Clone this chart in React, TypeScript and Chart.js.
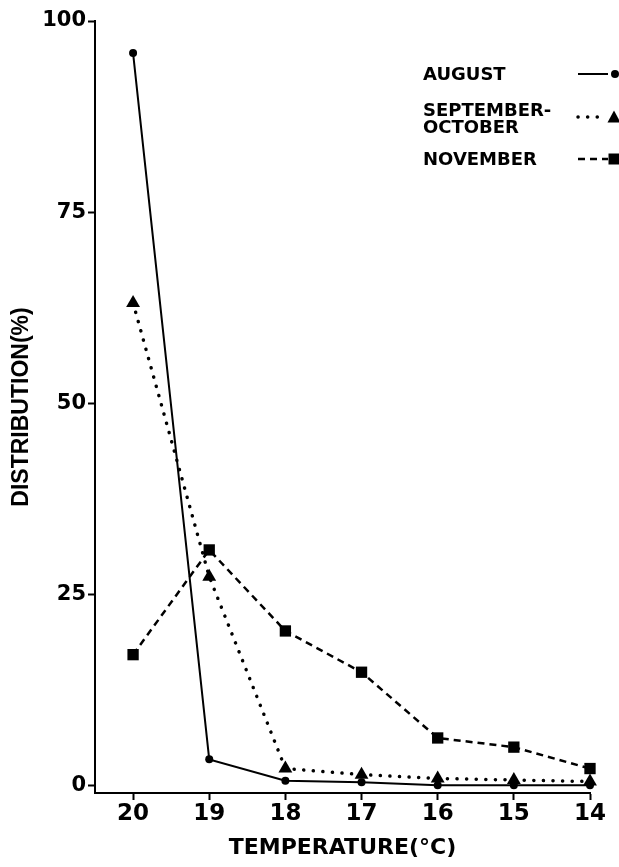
import React, { useEffect, useRef } from 'react';
import { Chart, registerables } from 'chart.js';

Chart.register(...registerables);

// ---- data ----
const temperatures = [20, 19, 18, 17, 16, 15, 14];
const august = [95.8, 3.4, 0.6, 0.4, 0, 0, 0];
const septOct = [63.1, 27.3, 2.2, 1.4, 0.9, 0.7, 0.5];
const november = [17.1, 30.8, 20.2, 14.8, 6.2, 5.0, 2.2];
const yTickValues = [0, 25, 50, 75, 100];
const xTickValues = [20, 19, 18, 17, 16, 15, 14];
const seriesLabels = [['AUGUST'], ['SEPTEMBER-', 'OCTOBER'], ['NOVEMBER']];
const xTitle = 'TEMPERATURE(°C)';
const yTitle = 'DISTRIBUTION(%)';

const W = 619;
const H = 867;
const INK = '#000000';

const legendPlugin = {
  id: 'cornerLegend',
  afterDraw(chart: any) {
    const ctx = chart.ctx as CanvasRenderingContext2D;
    ctx.save();
    ctx.fillStyle = INK;
    ctx.strokeStyle = INK;
    ctx.font = 'bold 18px "DejaVu Sans"';
    ctx.textBaseline = 'middle';
    ctx.textAlign = 'left';
    const textX = 423;
    const rows = [
      { lines: [75], sampleY: 74 },
      { lines: [111, 128], sampleY: 117 },
      { lines: [160], sampleY: 159 },
    ];
    chart.data.datasets.forEach((ds: any, i: number) => {
      const row = rows[i];
      const labels = seriesLabels[i];
      labels.forEach((t, j) => ctx.fillText(t, textX, row.lines[j]));
      // sample line
      ctx.save();
      ctx.lineWidth = ds.borderWidth;
      ctx.setLineDash(ds.borderDash || []);
      ctx.lineCap = ds.borderCapStyle || 'butt';
      ctx.beginPath();
      ctx.moveTo(578, row.sampleY);
      ctx.lineTo(i === 1 ? 602 : 608, row.sampleY);
      ctx.stroke();
      ctx.restore();
      // marker
      const mx = 614;
      const my = row.sampleY;
      ctx.beginPath();
      if (ds.pointStyle === 'circle') {
        ctx.arc(mx + 1, my, 4, 0, Math.PI * 2);
      } else if (ds.pointStyle === 'triangle') {
        ctx.moveTo(mx, my - 6.5);
        ctx.lineTo(mx + 6.5, my + 5.5);
        ctx.lineTo(mx - 6.5, my + 5.5);
        ctx.closePath();
      } else {
        ctx.rect(mx - 5.5, my - 5.5, 11, 11);
      }
      ctx.fill();
    });
    ctx.restore();
  },
};

export default function App() {
  const ref = useRef<HTMLCanvasElement | null>(null);

  useEffect(() => {
    document.body.style.margin = '0';
    const canvas = ref.current;
    if (!canvas) return;
    const toPts = (vals: number[]) => temperatures.map((t, i) => ({ x: t, y: vals[i] }));

    const chart = new Chart(canvas, {
      type: 'line',
      data: {
        datasets: [
          {
            label: 'AUGUST',
            data: toPts(august),
            borderColor: INK,
            backgroundColor: INK,
            borderWidth: 2,
            pointStyle: 'circle',
            pointRadius: 4,
            pointBorderWidth: 0,
            pointBackgroundColor: INK,
            tension: 0,
            clip: false,
          },
          {
            label: 'SEPTEMBER-OCTOBER',
            data: toPts(septOct),
            borderColor: INK,
            backgroundColor: INK,
            borderWidth: 3.5,
            borderDash: [0.1, 9.5],
            borderCapStyle: 'round',
            pointStyle: 'triangle',
            pointRadius: 8,
            pointBorderWidth: 0,
            pointBackgroundColor: INK,
            tension: 0,
            clip: false,
          },
          {
            label: 'NOVEMBER',
            data: toPts(november),
            borderColor: INK,
            backgroundColor: INK,
            borderWidth: 2.5,
            borderDash: [7, 5],
            pointStyle: 'rect',
            pointRadius: 8,
            pointBorderWidth: 0,
            pointBackgroundColor: INK,
            tension: 0,
            clip: false,
          },
        ] as any,
      },
      options: {
        animation: false,
        responsive: false,
        maintainAspectRatio: false,
        events: [],
        layout: { padding: { top: 21, right: 29, left: 0, bottom: 0 } },
        plugins: {
          legend: { display: false },
          tooltip: { enabled: false },
        },
        scales: {
          x: {
            type: 'linear',
            reverse: true,
            min: 14,
            max: 20.5,
            afterBuildTicks: (scale: any) => {
              scale.ticks = xTickValues.map((v) => ({ value: v }));
            },
            afterFit: (scale: any) => {
              scale.height = H - 793;
            },
            grid: {
              display: true,
              drawOnChartArea: false,
              drawTicks: true,
              tickLength: 7,
              tickWidth: 2,
              tickColor: INK,
              color: INK,
            },
            border: { display: true, color: INK, width: 2 },
            ticks: {
              color: INK,
              padding: 0,
              maxRotation: 0,
              autoSkip: false,
              font: { family: '"DejaVu Sans"', weight: 'bold', size: 23, lineHeight: 1.2 },
              callback: (v: any) => String(v),
            },
            title: {
              display: true,
              text: xTitle,
              color: INK,
              font: { family: '"DejaVu Sans"', weight: 'bold', size: 22, lineHeight: 1.2 },
              padding: { top: 0, bottom: 6 },
            },
          },
          y: {
            type: 'linear',
            min: -1,
            max: 100,
            afterBuildTicks: (scale: any) => {
              scale.ticks = yTickValues.map((v) => ({ value: v }));
            },
            afterFit: (scale: any) => {
              scale.width = 95;
            },
            grid: {
              display: true,
              drawOnChartArea: false,
              drawTicks: true,
              tickLength: 7,
              tickWidth: 2,
              tickColor: INK,
              color: INK,
            },
            border: { display: true, color: INK, width: 2 },
            ticks: {
              color: INK,
              padding: 2,
              autoSkip: false,
              font: { family: '"DejaVu Sans"', weight: 'bold', size: 21, lineHeight: 1.2 },
              callback: (v: any) => String(v),
            },
            title: {
              display: true,
              text: yTitle,
              color: INK,
              font: { family: '"Liberation Sans"', weight: 'bold', size: 23, lineHeight: 1.2 },
              padding: { top: 8, bottom: 0 },
            },
          },
        },
      } as any,
      plugins: [legendPlugin],
    });

    return () => chart.destroy();
  }, []);

  return (
    <div style={{ width: W, height: H, background: '#ffffff' }}>
      <canvas ref={ref} width={W} height={H} style={{ display: 'block' }} />
    </div>
  );
}
